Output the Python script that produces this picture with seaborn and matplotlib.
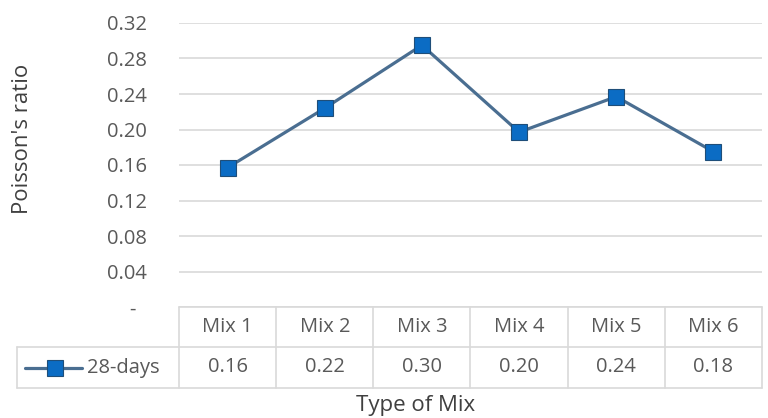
import matplotlib
matplotlib.use("Agg")
import matplotlib.pyplot as plt
import matplotlib.transforms as mtransforms
from matplotlib.lines import Line2D
import seaborn as sns
import pandas as pd
from decimal import Decimal, ROUND_HALF_UP

# Poisson's ratio at 28 days for each mix
mixes = ["Mix 1", "Mix 2", "Mix 3", "Mix 4", "Mix 5", "Mix 6"]
poisson_28d = [0.157, 0.224, 0.295, 0.197, 0.237, 0.175]
series_name = "28-days"
y_ticks = [0.0, 0.04, 0.08, 0.12, 0.16, 0.20, 0.24, 0.28, 0.32]
y_tick_labels = ["-", "0.04", "0.08", "0.12", "0.16", "0.20", "0.24", "0.28", "0.32"]

df = pd.DataFrame({"mix": mixes, "ratio": poisson_28d})

sns.set_theme(style="white")
plt.rcParams["font.family"] = ["Open Sans", "DejaVu Sans"]

TXT = "#595959"
TITLE = "#404040"
GRID = "#d9d9d9"
LINE = "#4a6e91"
MFACE = "#0b6cc4"
MEDGE = "#1f4e79"
FS = 14.5
FT = 16

W, H = 768, 418
fig = plt.figure(figsize=(W / 100, H / 100), dpi=100)
ax_l, ax_r, ax_t, ax_b = 179, 762, 23, 307
ax = fig.add_axes([ax_l / W, 1 - ax_b / H, (ax_r - ax_l) / W, (ax_b - ax_t) / H])

sns.lineplot(data=df, x="mix", y="ratio", ax=ax, color=LINE, linewidth=2.3,
             marker="s", markersize=12, markerfacecolor=MFACE,
             markeredgecolor=MEDGE, markeredgewidth=0.8, sort=False, zorder=3)

ax.set_xlim(-0.5, len(mixes) - 0.5)
ax.set_ylim(0, 0.32)
ax.set_yticks(y_ticks)
ax.set_yticklabels(y_tick_labels)
ax.set_xticks([])
ax.set_xlabel("")
ax.set_ylabel("")
ax.tick_params(axis="y", length=0, pad=23, labelsize=FS, labelcolor=TXT)
for s in ax.spines.values():
    s.set_visible(False)
ax.yaxis.grid(True, color=GRID, linewidth=1.2)
ax.set_axisbelow(True)
# nudge the zero label ("-") to the left like an accounting format
for lbl in ax.get_yticklabels():
    if lbl.get_text() == "-":
        lbl.set_transform(lbl.get_transform() + mtransforms.ScaledTranslation(-11 / 100, 0, fig.dpi_scale_trans))

# Data table below the plot area
ax_h = ax_b - ax_t
ax_w = ax_r - ax_l
row1 = -(347 - ax_b) / ax_h
row2 = -(388 - ax_b) / ax_h
key_left = -0.5 + (17 - ax_l) / ax_w * len(mixes)
trans = mtransforms.blended_transform_factory(ax.transData, ax.transAxes)
lk = dict(color=GRID, linewidth=1.2, transform=trans, clip_on=False)
ax.add_line(Line2D([-0.5, len(mixes) - 0.5], [0, 0], **lk))
ax.add_line(Line2D([key_left, len(mixes) - 0.5], [row1, row1], **lk))
ax.add_line(Line2D([key_left, len(mixes) - 0.5], [row2, row2], **lk))
ax.add_line(Line2D([key_left, key_left], [row1, row2], **lk))
for i in range(len(mixes) + 1):
    ax.add_line(Line2D([i - 0.5, i - 0.5], [0, row2], **lk))


def fmt(v):
    return str(Decimal(str(v)).quantize(Decimal("0.01"), rounding=ROUND_HALF_UP))


for i, (m, v) in enumerate(zip(mixes, poisson_28d)):
    ax.text(i, row1 / 2, m, transform=trans, ha="center", va="center",
            fontsize=FS, color=TXT)
    ax.text(i, (row1 + row2) / 2, fmt(v), transform=trans, ha="center",
            va="center", fontsize=FS, color=TXT)

# legend key inside the table
ky = 1 - 368 / H
fig.add_artist(Line2D([25 / W, 82 / W], [ky, ky], color=LINE, linewidth=2.3,
                      transform=fig.transFigure))
fig.add_artist(Line2D([55 / W], [ky], color=LINE, marker="s", markersize=12,
                      markerfacecolor=MFACE, markeredgecolor=MEDGE,
                      markeredgewidth=0.8, linestyle="none",
                      transform=fig.transFigure))
fig.text(87 / W, ky, series_name, ha="left", va="center", fontsize=FS, color=TXT)

fig.text(416 / W, 1 - 405 / H, "Type of Mix", ha="center", va="center",
         fontsize=FT, color=TITLE)
fig.text(23 / W, 1 - 139 / H, "Poisson's ratio", ha="center", va="center",
         rotation=90, fontsize=FT, color=TITLE)

fig.savefig("out.png", dpi=100, facecolor="white")
